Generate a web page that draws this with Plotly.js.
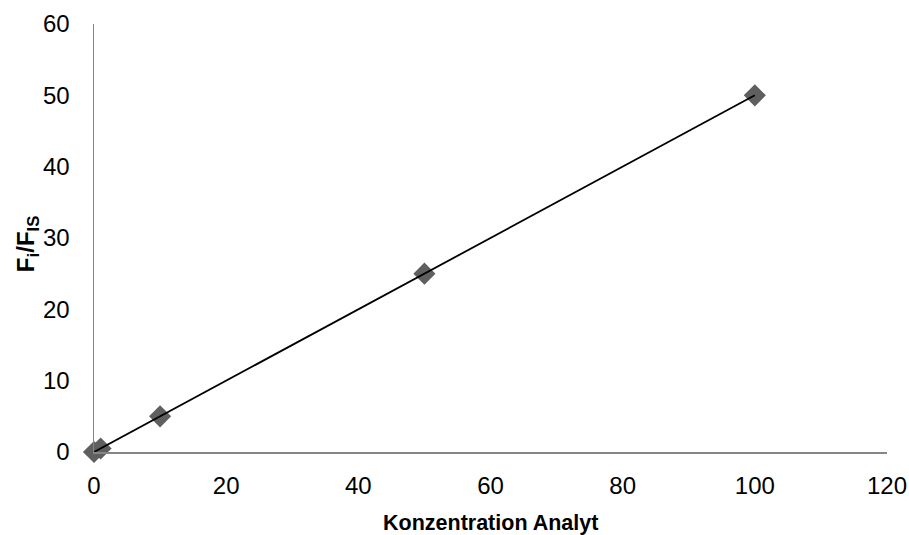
<!DOCTYPE html>
<html>
<head>
<meta charset="utf-8">
<script src="https://cdn.plot.ly/plotly-3.0.1.min.js"></script>
<style>html,body{margin:0;padding:0;background:#fff;}#chart{width:909px;height:535px;}</style>
</head>
<body>
<div id="chart"></div>
<script>
const concentrations = [0, 1, 10, 50, 100];
const ratios = [0, 0.5, 5, 25, 50];
const trendX = [0, 100];
const trendY = [0, 50];
const xTicks = [0, 20, 40, 60, 80, 100, 120];
const yTicks = [0, 10, 20, 30, 40, 50, 60];
const xTitle = '<b>Konzentration Analyt</b>';
const yTitle = '<b>F<sub>i</sub>/F<sub>IS</sub></b>';

const fontFam = '"Liberation Sans", Arial, sans-serif';

const data = [
  {
    x: concentrations, y: ratios, type: 'scatter', mode: 'markers',
    marker: {symbol: 'diamond', size: 17, color: '#5f5f5f'},
    cliponaxis: false, hoverinfo: 'skip'
  },
  {
    x: trendX, y: trendY, type: 'scatter', mode: 'lines',
    line: {color: '#000000', width: 1.8},
    cliponaxis: false, hoverinfo: 'skip'
  }
];

const layout = {
  width: 909, height: 535,
  margin: {l: 94, r: 22, t: 24, b: 83},
  paper_bgcolor: '#ffffff', plot_bgcolor: '#ffffff',
  showlegend: false,
  font: {family: fontFam, size: 24, color: '#000'},
  xaxis: {
    range: [0, 120], tickvals: xTicks, ticktext: xTicks.map(String),
    showgrid: false, zeroline: false, showline: true, linecolor: '#868686', linewidth: 1.5,
    ticks: '', ticklen: 0, ticklabelstandoff: 12, tickfont: {family: fontFam, size: 24, color: '#000'},
    automargin: false
  },
  yaxis: {
    range: [0, 60], tickvals: yTicks, ticktext: yTicks.map(String),
    showgrid: false, zeroline: false, showline: true, linecolor: '#868686', linewidth: 1.5,
    ticks: '', ticklen: 0, ticklabelstandoff: 18, tickfont: {family: fontFam, size: 24, color: '#000'},
    automargin: false
  },
  annotations: [
    {text: xTitle, xref: 'paper', yref: 'paper', x: 0.4994, y: -0.166,
     xanchor: 'center', yanchor: 'middle', showarrow: false,
     font: {family: fontFam, size: 21.5, color: '#000'}},
    {text: yTitle, xref: 'paper', yref: 'paper', x: -0.0845, y: 0.488,
     xanchor: 'center', yanchor: 'middle', showarrow: false, textangle: -90,
     font: {family: fontFam, size: 24, color: '#000'}}
  ]
};

Plotly.newPlot('chart', data, layout, {displayModeBar: false, staticPlot: true});
</script>
</body>
</html>
